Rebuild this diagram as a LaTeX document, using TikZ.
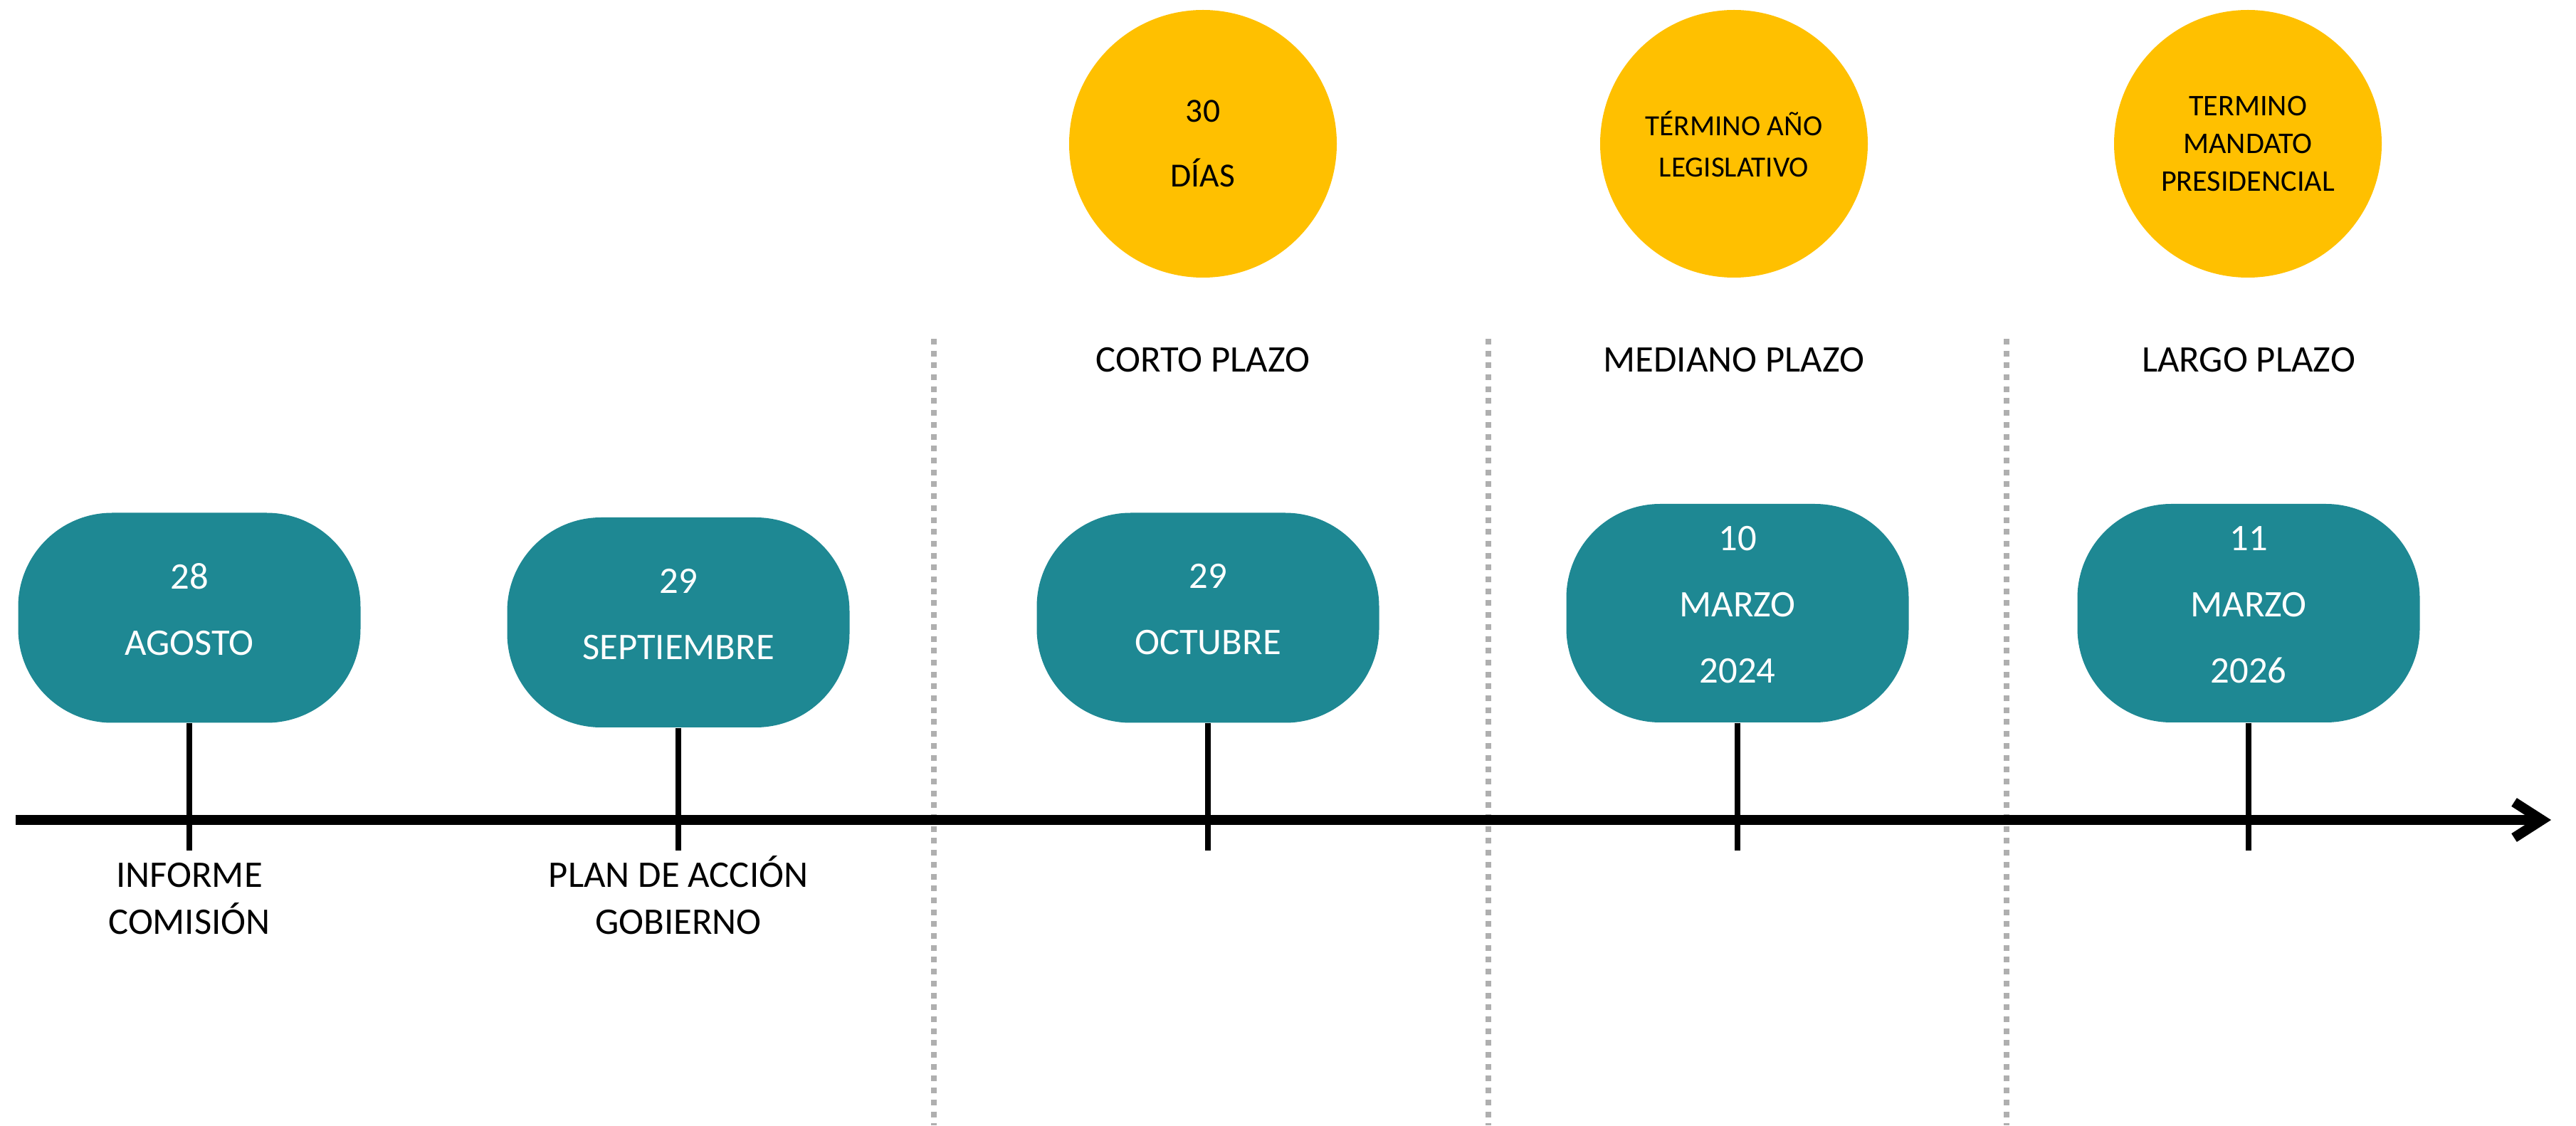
\documentclass[tikz,border=0pt]{standalone}
\usepackage{fontspec}
\setmainfont{Carlito}
\usepackage{xcolor}
\usetikzlibrary{positioning}
\usetikzlibrary{arrows.meta}
\definecolor{tealbox}{RGB}{30,136,147}
\definecolor{goldcirc}{RGB}{255,192,0}
\definecolor{sepgray}{RGB}{175,175,175}

\begin{document}
\begin{tikzpicture}[
    datebox/.style={fill=tealbox, rounded corners=1.32cm, minimum width=4.81cm, minimum height=2.95cm, inner sep=0pt, text=white, align=center, text depth=0.24cm, font=\fontsize{15}{26.5}\selectfont},
    goal/.style={circle, fill=goldcirc, minimum size=3.76cm, inner sep=0pt, align=center},
    stem/.style={line width=0.08cm},
    phase/.style={anchor=base, inner sep=0pt, font=\fontsize{15}{18}\selectfont},
    event/.style={align=center, inner sep=0pt, font=\fontsize{15}{18.5}\selectfont},
    divider/.style={sepgray, line width=0.08cm, dash pattern=on 0.08cm off 0.087cm}
  ]
            \useasboundingbox (0,0) rectangle (36.19,15.81);
            % phases
            \draw [divider] (13.12,11.05) -- (13.12,0);
            \draw [divider] (20.91,11.05) -- (20.91,0);
            \draw [divider] (28.19,11.05) -- (28.19,0);
            \node [phase] (corto) at (16.90,10.58) {CORTO PLAZO};
            \node [phase] (mediano) at (24.36,10.58) {MEDIANO PLAZO};
            \node [phase] (largo) at (31.59,10.58) {LARGO PLAZO};
            \node [goal, font=\fontsize{13.5}{26}\selectfont] (dias) at (16.90,13.79) {30\\DÍAS};
            \node [goal, font=\fontsize{11.7}{16.5}\selectfont] (legis) at (24.36,13.79) {TÉRMINO AÑO\\LEGISLATIVO};
            \node [goal, font=\fontsize{12}{15}\selectfont] (mandato) at (31.58,13.79) {TERMINO\\MANDATO\\PRESIDENCIAL};
            % timeline
            \coordinate (a0) at (0.22,4.29);
            \coordinate (a1) at (35.84,4.29);
            \draw [line width=0.14cm, -{Straight Barb[length=0.39cm, width=0.5cm]}] (a0) -- (a1);
            \coordinate (t1) at (2.66,3.86);
            \coordinate (t2) at (9.53,3.86);
            \coordinate (t3) at (16.97,3.86);
            \coordinate (t4) at (24.41,3.86);
            \coordinate (t5) at (31.59,3.86);
            \node [datebox] (agosto) at (2.66,7.13) {28\\AGOSTO};
            \node [datebox] (septiembre) at (9.53,7.065) {29\\SEPTIEMBRE};
            \node [datebox] (octubre) at (16.97,7.13) {29\\OCTUBRE};
            \node [datebox, minimum height=3.07cm] (marzo24) at (24.41,7.195) {10\\MARZO\\2024};
            \node [datebox, minimum height=3.07cm] (marzo26) at (31.59,7.195) {11\\MARZO\\2026};
            \draw [stem] (agosto.south) -- (t1);
            \draw [stem] (septiembre.south) -- (t2);
            \draw [stem] (octubre.south) -- (t3);
            \draw [stem] (marzo24.south) -- (t4);
            \draw [stem] (marzo26.south) -- (t5);
            \node [event, below=1.17cm of t1, anchor=base] (informe) {INFORME\\COMISIÓN};
            \node [event, below=1.17cm of t2, anchor=base] (plan) {PLAN DE ACCIÓN\\GOBIERNO};
        \end{tikzpicture}
\end{document}
